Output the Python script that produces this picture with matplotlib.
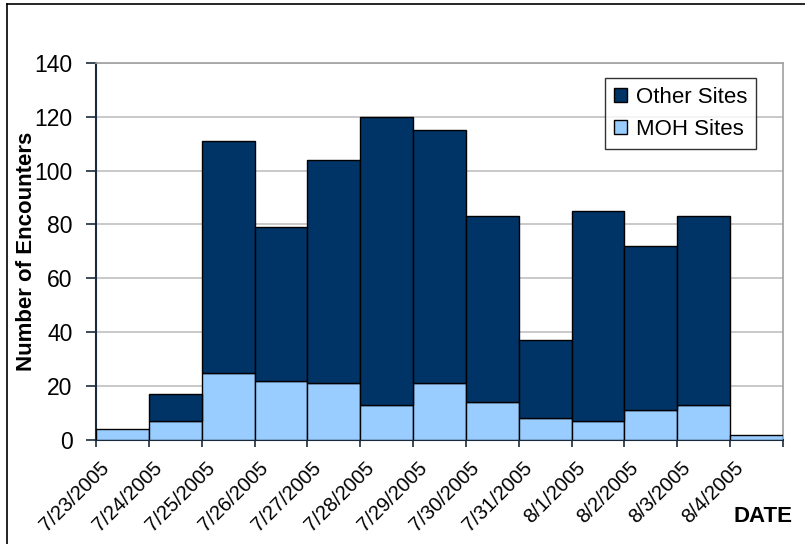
import matplotlib
matplotlib.use('Agg')
from matplotlib import pyplot as plt
from matplotlib.transforms import ScaledTranslation
from matplotlib.lines import Line2D
import numpy as np

dates = ['7/23/2005', '7/24/2005', '7/25/2005', '7/26/2005', '7/27/2005',
         '7/28/2005', '7/29/2005', '7/30/2005', '7/31/2005', '8/1/2005',
         '8/2/2005', '8/3/2005', '8/4/2005']
moh_sites = [4, 7, 25, 22, 21, 13, 21, 14, 8, 7, 11, 13, 2]
other_sites = [0, 10, 86, 57, 83, 107, 94, 69, 29, 78, 61, 70, 0]
y_ticks = [0, 20, 40, 60, 80, 100, 120, 140]

plt.rcParams['font.family'] = ['Liberation Sans', 'DejaVu Sans']

fig = plt.figure(figsize=(8.05, 5.44), dpi=100)
W, H = 805, 544
ax = fig.add_axes([96/W, 1 - 440/H, (783 - 96)/W, (440 - 62.7)/H])

x = np.arange(len(dates))
moh = np.array(moh_sites)
other = np.array(other_sites)

ax.bar(x, moh, width=1.0, align='edge', color='#99CCFF', edgecolor='black',
       linewidth=1.0, label='MOH Sites', zorder=3)
ax.bar(x[other > 0], other[other > 0], width=1.0, bottom=moh[other > 0], align='edge',
       color='#003366', edgecolor='black', linewidth=1.0, label='Other Sites', zorder=3)

ax.set_xlim(0, len(dates))
ax.set_ylim(0, 140)
ax.set_yticks(y_ticks)
ax.yaxis.grid(True, color='#C0C0C0', linewidth=1.2, zorder=0)
ax.set_axisbelow(True)

# boundaries get tick marks, centers get labels
ax.set_xticks(np.arange(len(dates) + 1))
ax.set_xticklabels([])
ax.set_xticks(x + 0.5, minor=True)
ax.set_xticklabels(dates, minor=True, rotation=45, ha='right', fontsize=14.5)
ax.tick_params(axis='x', which='major', direction='out', length=5, width=1.2, color='#1a2a3a')
ax.tick_params(axis='x', which='minor', length=0, pad=13)
ax.tick_params(axis='y', direction='out', length=7, width=1.2, color='#1a2a3a',
               labelsize=16.5, pad=10)
for lab in ax.get_xticklabels(minor=True):
    lab.set_transform(lab.get_transform() + ScaledTranslation(-9/100, 0, fig.dpi_scale_trans))

for s in ['left', 'bottom']:
    ax.spines[s].set_color('#1a2a3a')
    ax.spines[s].set_linewidth(1.5)
for s in ['right', 'top']:
    ax.spines[s].set_color('#A0A0A0')
    ax.spines[s].set_linewidth(1.2)

ax.set_ylabel('Number of Encounters', fontsize=16, fontweight='bold')
ax.yaxis.set_label_coords(-0.086, 0.5)

fig.text(792/W, 1 - 517/H, 'DATE', fontsize=16, fontweight='bold', ha='right', va='center')

handles, labels = ax.get_legend_handles_labels()
leg = ax.legend(handles[::-1], labels[::-1], loc='upper right',
                bbox_to_anchor=(756/W, 1 - 78/H), bbox_transform=fig.transFigure,
                fontsize=16, frameon=True, fancybox=False, edgecolor='black',
                handlelength=0.6, handleheight=0.6, handletextpad=0.4,
                labelspacing=0.5, borderpad=0.4, borderaxespad=0)
leg.get_frame().set_linewidth(1.0)

# outer chart border (left and top only visible)
fig.add_artist(Line2D([7/W, 7/W], [0, 1 - 4/H], transform=fig.transFigure, color='black', linewidth=1.2))
fig.add_artist(Line2D([7/W, 1], [1 - 4/H, 1 - 4/H], transform=fig.transFigure, color='black', linewidth=1.2))

fig.savefig('out.png', dpi=100)
